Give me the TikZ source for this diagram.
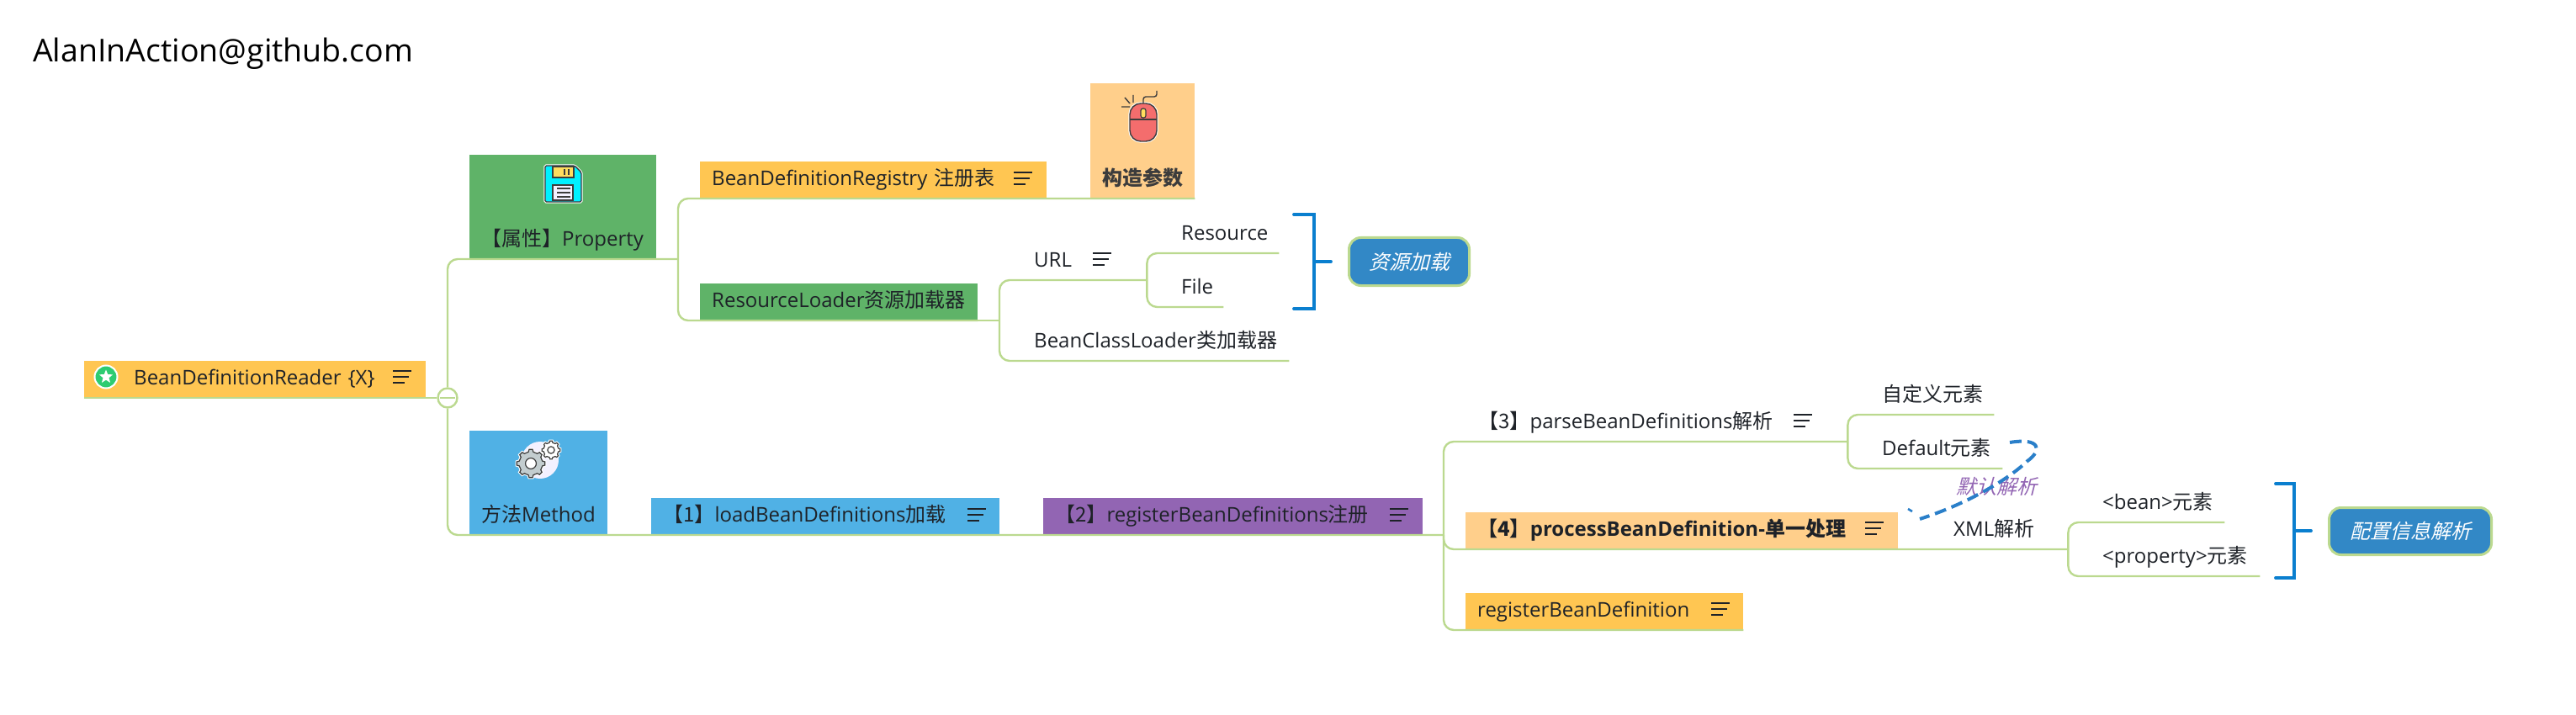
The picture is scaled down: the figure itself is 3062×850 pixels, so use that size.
\documentclass[tikz,border=0pt]{standalone}
\usepackage{fontspec}
\setmainfont{Open Sans}
\newfontfamily\cjk{Noto Sans CJK SC}
\newfontfamily\cjkit[FakeSlant=0.25]{Noto Sans CJK SC}
\usetikzlibrary{shapes.geometric}
\definecolor{barorange}{HTML}{FFC652}
\definecolor{paleorange}{HTML}{FFCF8B}
\definecolor{topicgreen}{HTML}{5FB368}
\definecolor{skyblue}{HTML}{50B1E5}
\definecolor{plum}{HTML}{9265B3}
\definecolor{branchgreen}{HTML}{BBD98F}
\definecolor{bracketblue}{HTML}{0A7FCF}
\definecolor{noteblue}{HTML}{3288C6}
\definecolor{relationblue}{HTML}{2A7FC9}
\definecolor{inkdark}{HTML}{1E2228}
\definecolor{inkgray}{HTML}{3C3C3C}
\definecolor{starred}{HTML}{2ECC71}
\definecolor{diskcyan}{HTML}{00F0FF}
\definecolor{labelyellow}{HTML}{FFDD5E}
\definecolor{mousered}{HTML}{F46D6D}
\definecolor{palelilac}{HTML}{F3F1FF}
\definecolor{gearsilver}{HTML}{C3CDCF}
\newcommand{\zh}[1]{{\cjk #1}}
\newcommand{\notemark}[2]{\draw[line width=2pt,draw=inkdark] (#1,#2-7) -- ++(22,0) (#1,#2) -- ++(19,0) (#1,#2+7) -- ++(14,0);}
\newcommand{\gearicon}[4]{\draw[shift={(#1,#2)},draw=inkgray,fill=#4,line width=1.2pt,preaction={draw=white,line width=3.4pt}] (-12:#3) \foreach \a in {0,45,...,315}{ -- (\a-12:#3) -- (\a-7:#3*1.2) -- (\a+7:#3*1.2) -- (\a+12:#3)} -- cycle;
	\draw[shift={(#1,#2)},draw=inkgray,fill=white,line width=1.2pt] (0,0) circle (#3*0.46);}
\begin{document}
\begin{tikzpicture}[x=1pt,y=-1pt]
	      \tikzstyle{every node}=[font=\fontsize{24}{28}\selectfont,inner sep=0pt,text=inkdark]
	      \tikzstyle{topic}=[rectangle,anchor=south west,align=left,text height=29pt,text depth=15pt,execute at begin node={\hspace*{14pt}}]
	      \tikzstyle{leaf}=[rectangle,anchor=south west,align=left,text height=33pt,text depth=15pt,execute at begin node={\hspace*{41pt}}]
	      \tikzstyle{branch}=[draw=branchgreen,line width=2.4pt,rounded corners=12pt]
	      \tikzstyle{bracket}=[draw=bracketblue,line width=3.8pt,line cap=round]
	      \tikzstyle{summary}=[rectangle,rounded corners=14pt,draw=branchgreen,line width=3pt,fill=noteblue,text=white]
	      \useasboundingbox (0,0) rectangle (3062,850);
	      \node[anchor=base west,font=\fontsize{37.5}{42}\selectfont,text=black] (sitetag) at (39,74) {AlanInAction@github.com};
	      \node[topic,fill=barorange,text width=406pt] (rootbox) at (100,473) {\hspace*{45pt}BeanDefinitionReader \{X\}};
	      \node[circle,fill=starred,draw=white,line width=2pt,minimum size=27pt] (rootmark) at (126,448) {};
	      \node[star,star points=5,star point ratio=2.3,fill=white,minimum size=17pt] (rootstar) at (126,448) {};
	      \node[topic,fill=topicgreen,text width=222pt,text height=109pt] (propbox) at (558,308) {\zh{【属性】}Property};
	      \node[topic,fill=skyblue,text width=164pt,text height=109pt] (methodbox) at (558,636) {\zh{方法}Method};
	      \node[topic,fill=barorange,text width=412pt] (registrybox) at (832,236) {BeanDefinitionRegistry \zh{注册表}};
	      \node[topic,fill=paleorange,text width=124pt,text height=122pt,text=inkgray,font=\fontsize{24}{28}\selectfont\bfseries] (paramsbox) at (1296,236) {\zh{构造参数}};
	      \node[topic,fill=topicgreen,text width=330pt] (loaderbox) at (832,381) {ResourceLoader\zh{资源加载器}};
	      \node[leaf,text width=175pt] (urlleaf) at (1188,333) {URL};
	      \node[leaf,text width=344pt] (classleaf) at (1188,429) {BeanClassLoader\zh{类加载器}};
	      \node[leaf,text width=157pt] (resourceleaf) at (1363,301) {Resource};
	      \node[leaf,text width=91pt] (fileleaf) at (1363,365) {File};
	      \node[summary,minimum width=143pt,minimum height=57pt] (loadnote) at (1675,311) {\cjkit 资源加载};
	      \node[topic,fill=skyblue,text width=414pt] (loadbox) at (774,636) {\zh{【1】}loadBeanDefinitions\zh{加载}};
	      \node[topic,fill=plum,text width=451pt] (registerbox) at (1240,636) {\zh{【2】}registerBeanDefinitions\zh{注册}};
	      \node[leaf,text width=480pt] (parseleaf) at (1716,525) {\zh{【3】}parseBeanDefinitions\zh{解析}};
	      \node[leaf,text width=174pt] (customleaf) at (2196,493) {\zh{自定义元素}};
	      \node[leaf,text width=184pt] (defaultleaf) at (2196,557) {Default\zh{元素}};
	      \node[topic,fill=paleorange,text width=514pt,font=\fontsize{24}{28}\selectfont\bfseries] (processbox) at (1742,653) {\zh{【4】}processBeanDefinition-\zh{单一处理}};
	      \node[topic,fill=barorange,text width=330pt] (singlebox) at (1742,749) {registerBeanDefinition};
	      \node[leaf,text width=177pt] (xmlleaf) at (2281,653) {XML\zh{解析}};
	      \node[leaf,text width=186pt] (beanleaf) at (2458,621) {<bean>\zh{元素}};
	      \node[leaf,text width=228pt] (propertyleaf) at (2458,685) {<property>\zh{元素}};
	      \node[summary,minimum width=193pt,minimum height=56pt] (confignote) at (2865,631.5) {\cjkit 配置信息解析};
	      \node[text=plum] (relationtag) at (2373,578) {\cjkit 默认解析};
	      \coordinate (propfork) at (806,308);
	      \coordinate (loaderfork) at (1188,381);
	      \coordinate (methodfork) at (1716,636);
	      \coordinate (loadtop) at (1538,255);
	      \coordinate (loadbend) at (1562,255);
	      \coordinate (loadbase) at (1538,367);
	      \coordinate (loadmid) at (1562,311);
	      \coordinate (loadtip) at (1582,311);
	      \coordinate (configtop) at (2705,575);
	      \coordinate (configbend) at (2727,575);
	      \coordinate (configbase) at (2705,687);
	      \coordinate (configmid) at (2727,631);
	      \coordinate (configtip) at (2747,631);
	      \coordinate (relationstart) at (2389,526);
	      \coordinate (relationturn) at (2410,548);
	      \coordinate (relationend) at (2282,617);
	      \coordinate (tickstart) at (2268,605);
	      \coordinate (tickend) at (2273,608);
	      \node[circle,draw=branchgreen,line width=2.4pt,fill=white,minimum size=23pt] (roothub) at (532,473) {};
	      \draw[branch] (rootbox.south west)--(roothub.west);
	      \draw[branch,shorten >=4pt,shorten <=4pt] (roothub.west)--(roothub.east);
	      \draw[branch] (roothub.north) |- (propfork);
	      \draw[branch] (roothub.south) |- (methodfork);
	      \draw[branch] (propfork) |- (paramsbox.south east);
	      \draw[branch] (propfork) |- (loaderbox.south east);
	      \draw[branch] (loaderbox.south east)--(loaderfork);
	      \draw[branch] (loaderfork) |- (urlleaf.south east);
	      \draw[branch] (loaderfork) |- (classleaf.south east);
	      \draw[branch] (urlleaf.south east) |- (resourceleaf.south east);
	      \draw[branch] (urlleaf.south east) |- (fileleaf.south east);
	      \draw[branch] (methodfork) |- (parseleaf.south east);
	      \draw[branch] (methodfork) |- (xmlleaf.south east);
	      \draw[branch] (methodfork) |- (singlebox.south east);
	      \draw[branch] (parseleaf.south east) |- (customleaf.south east);
	      \draw[branch] (parseleaf.south east) |- (defaultleaf.south east);
	      \draw[branch] (xmlleaf.south east) |- (beanleaf.south east);
	      \draw[branch] (xmlleaf.south east) |- (propertyleaf.south east);
	      \draw[bracket,line join=miter] (loadtop)--(loadbend)--(loadbend|-loadbase)--(loadbase);
	      \draw[bracket] (loadmid)--(loadtip);
	      \draw[bracket,line join=miter] (configtop)--(configbend)--(configbend|-configbase)--(configbase);
	      \draw[bracket] (configmid)--(configtip);
	      \draw[draw=relationblue,line width=4pt,dash pattern=on 14pt off 7pt] (relationstart) .. controls (2425,520) and (2428,535) .. (relationturn) .. controls (2385,572) and (2335,600) .. (relationend);
	      \draw[draw=relationblue,line width=2.6pt] (tickstart)--(tickend);
	      \notemark{467}{448}
	      \notemark{1205}{212}
	      \notemark{1299}{308}
	      \notemark{1150}{612}
	      \notemark{1652}{612}
	      \notemark{2132}{500}
	      \notemark{2217}{628}
	      \notemark{2034}{724}
	      \draw[draw=inkgray,fill=diskcyan,line width=1.4pt,preaction={draw=white,line width=3.4pt},rounded corners=1.5pt] (648,197)--(683,197)--(691,205)--(691,240)--(648,240)--cycle;
	      \draw[draw=inkgray,fill=labelyellow,line width=1.4pt] (657,198) rectangle (682,211);
	      \draw[draw=inkgray,line width=1.4pt] (671,201)--(671,208) (676,201)--(676,208);
	      \draw[draw=inkgray,fill=palelilac,line width=1.4pt] (657,220) rectangle (681,238);
	      \draw[draw=inkgray,line width=1.2pt] (662,224)--(678,224) (662,229)--(678,229) (662,234)--(678,234);
	      \draw[draw=inkgray,fill=mousered,line width=1.4pt,preaction={draw=white,line width=3.4pt},rounded corners=13pt] (1343,123) rectangle (1375,168);
	      \draw[draw=inkgray,line width=1.4pt] (1343,142)--(1375,142);
	      \draw[draw=inkgray,fill=labelyellow,line width=1.2pt,rounded corners=2.5pt] (1356,129) rectangle (1362,140);
	      \draw[draw=inkgray,line width=1.4pt,rounded corners=3pt] (1359,123)--(1359,115)--(1375,115)--(1375,108);
	      \draw[draw=inkgray,line width=1.4pt] (1337,116)--(1343,123) (1347,113)--(1347,122) (1333,127)--(1343,127);
	      \fill[palelilac] (642,547) circle (22);
	      \gearicon{631}{551}{14}{gearsilver}
	      \gearicon{655}{535}{9}{white}
\end{tikzpicture}
\end{document}
